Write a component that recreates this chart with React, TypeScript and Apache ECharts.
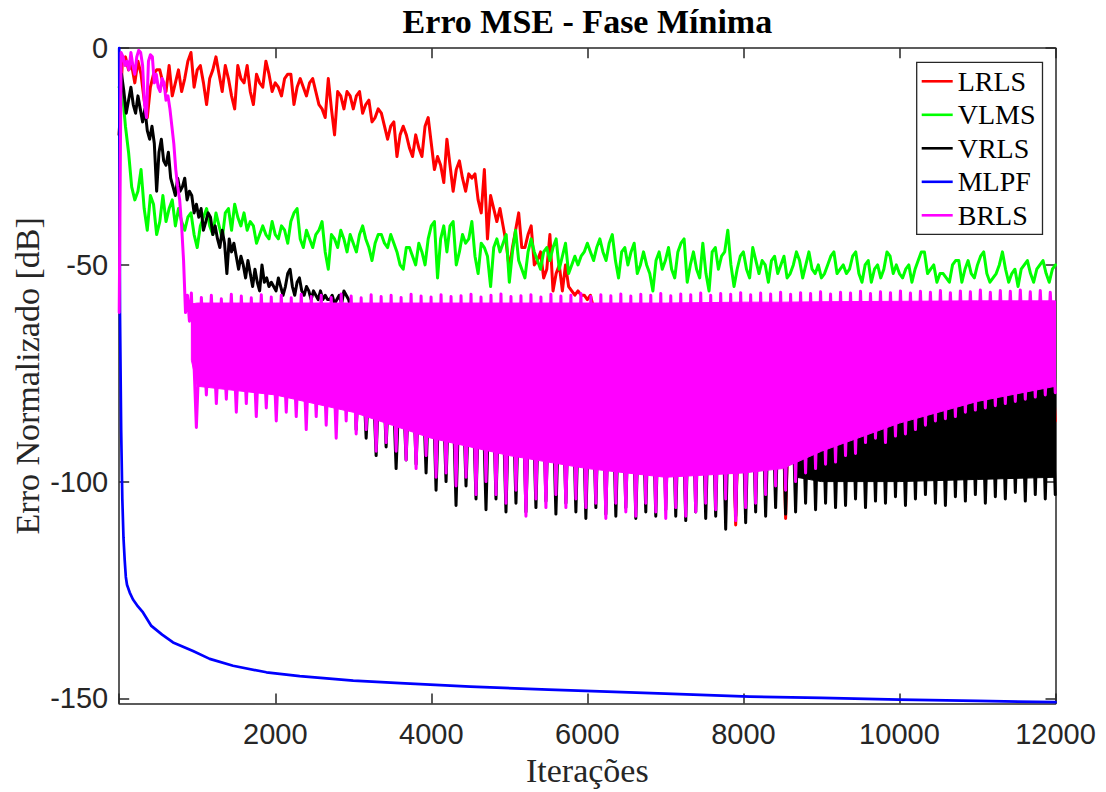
import React, { useEffect, useRef } from "react";
import * as echarts from "echarts";

// ---- sampling of the learning curves (iterations) ----
const LRLS_STEP = 40;
const VLMS_STEP = 40;
const VRLS_STEP = 30;
const BRLS_STEP = 25;
// steady-state oscillation: iteration of first crest / first trough, cycle length
const CYCLE_FIRST_PEAK = 925;
const CYCLE_FIRST_TROUGH = 989;
const CYCLE_LEN = 128;

const X_MIN = 0;
const X_MAX = 12000;
const X_INTERVAL = 2000;
const Y_MIN = -151.2;
const Y_MAX = 0;
const Y_TICKS = [0, -50, -100, -150];

const LEGEND_NAMES = ["LRLS", "VLMS", "VRLS", "MLPF", "BRLS"];

// LRLS, 0..6080 every 40 iterations
const LRLS_START = [
  -20, -3, -2, -5, -4, -8, -3, -6, -12, -16,
  -9, -6, -5, -5, -8, -10, -4, -11, -8, -5,
  -10, -7, -3, -1, -9, -5, -4, -8, -13, -7,
  -5, -2, -6, -10, -4, -7, -11, -14, -4, -7,
  -8, -4, -10, -13, -6, -8, -9, -3, -6, -10,
  -8, -9, -11, -7, -6, -6, -13, -9, -7, -9,
  -11, -8, -7, -10, -13, -14, -16, -7, -14, -20,
  -10, -11, -14, -10, -11, -14, -11, -10, -15, -13,
  -12, -17, -16, -14, -15, -18, -21, -18, -17, -25,
  -20, -18, -20, -23, -25, -20, -23, -25, -18, -16,
  -22, -28, -25, -27, -31, -21, -27, -33, -28, -26,
  -30, -33, -29, -30, -29, -35, -38, -28, -44, -34,
  -37, -40, -37, -41, -45, -51, -46, -42, -38, -46,
  -46, -43, -41, -50, -49, -47, -53, -51, -43, -56,
  -52, -50, -56, -50, -55, -56, -57, -56, -57, -57,
  -58, -57, -60,
];
// LRLS oscillation, troughs of cycles 40..86 and crests of cycles 41..86
const LRLS_LATE_TROUGHS = [
  -95, -96, -95, -96.5, -96, -97, -96, -97, -96.5, -97,
  -97.5, -96, -97, -96.5, -110, -96, -96.5, -96, -95.5, -108.5,
  -97, -96.5, -96, -95, -94, -93, -92, -91, -90, -89,
  -88, -87, -86, -85.5, -85, -84, -83.5, -83, -82, -81.5,
  -81, -80.5, -80, -79.5, -79, -78.5, -86,
];
const LRLS_LATE_PEAKS = [
  -63, -65, -64, -66, -63, -65, -64, -62, -65, -64,
  -66, -63, -65, -64, -63, -66, -64, -65, -63, -64,
  -66, -65, -63, -64, -65, -66, -63, -64, -65, -64,
  -63, -66, -64, -65, -63, -64, -65, -66, -64, -63,
  -65, -64, -66, -63, -65, -64,
];

// VLMS, 0..12000 every 40 iterations
const VLMS = [
  -9, -10, -18, -24, -32, -35, -33, -28, -37, -42,
  -34, -36, -43, -40, -34, -40, -37, -35, -41, -37,
  -40, -42, -39, -38, -43, -46, -41, -39, -37, -41,
  -43, -38, -41, -44, -38, -37, -42, -36, -39, -41,
  -38, -42, -40, -41, -45, -43, -41, -43, -44, -40,
  -43, -44, -41, -42, -45, -40, -38, -37, -44, -46,
  -42, -44, -46, -43, -42, -40, -47, -51, -43, -44,
  -46, -42, -44, -47, -43, -45, -47, -43, -41, -44,
  -46, -49, -45, -43, -43, -45, -46, -43, -45, -47,
  -50, -51, -46, -46, -48, -50, -45, -47, -50, -44,
  -41, -40, -53, -44, -41, -47, -41, -40, -50, -47,
  -43, -45, -44, -40, -48, -52, -45, -46, -48, -55,
  -46, -44, -47, -45, -43, -54, -47, -42, -49, -51,
  -53, -47, -44, -47, -49, -51, -47, -46, -49, -46,
  -44, -51, -48, -45, -52, -50, -48, -50, -48, -47,
  -45, -47, -49, -46, -44, -47, -49, -45, -43, -49,
  -53, -47, -46, -50, -47, -45, -52, -50, -47, -50,
  -52, -56, -49, -47, -51, -49, -46, -51, -53, -47,
  -45, -44, -54, -50, -47, -51, -53, -45, -52, -56,
  -47, -46, -51, -48, -47, -42, -50, -55, -51, -48,
  -47, -51, -53, -46, -49, -52, -49, -50, -54, -49,
  -48, -52, -50, -48, -53, -52, -50, -47, -49, -53,
  -50, -47, -51, -52, -50, -53, -52, -50, -48, -47,
  -52, -51, -50, -52, -51, -48, -47, -52, -54, -50,
  -49, -54, -51, -50, -53, -51, -47, -48, -52, -50,
  -52, -53, -51, -50, -54, -51, -49, -47, -47, -52,
  -51, -50, -54, -52, -52, -53, -54, -50, -49, -49,
  -54, -51, -49, -52, -53, -50, -48, -47, -52, -54,
  -53, -52, -50, -47, -51, -54, -52, -51, -55, -51,
  -50, -49, -52, -54, -51, -50, -49, -52, -54, -51,
  -50,
];

// VRLS, 0..3000 every 30 iterations
const VRLS_START = [
  -20, -6, -10, -15, -12, -9, -13, -15, -11, -14,
  -17, -14, -19, -21, -18, -22, -33, -24, -21, -26,
  -27, -24, -30, -32, -34, -30, -33, -32, -30, -35,
  -33, -34, -38, -36, -39, -37, -42, -40, -38, -39,
  -43, -41, -44, -46, -42, -45, -52, -44, -47, -45,
  -48, -51, -48, -50, -53, -49, -52, -55, -51, -54,
  -56, -50, -54, -53, -55, -54, -55, -56, -53, -55,
  -57, -55, -52, -51, -55, -57, -54, -53, -56, -57,
  -55, -56, -58, -56, -57, -58, -56, -58, -57, -58,
  -58, -57, -59, -58, -57, -59, -56, -57, -58, -60,
  -62,
];
// VRLS oscillation, troughs of cycles 16..86 and crests of cycles 17..86
const VRLS_LATE_TROUGHS = [
  -88, -90, -94, -92, -97, -95, -96, -98, -102, -100,
  -105.5, -101, -104, -106.5, -104, -107, -105, -107, -106, -104.5,
  -107.5, -105, -107, -108.5, -106, -107.5, -108, -106, -108.5, -107,
  -108, -106.5, -108, -109, -107, -108.5, -108, -111, -108, -109.5,
  -107, -108, -106, -107.5, -107, -105, -106.5, -105, -106, -105.5,
  -104, -106, -104.5, -105, -103.5, -105.5, -104, -103, -105, -105.5,
  -103.5, -104.5, -103, -105, -103.5, -104, -102.5, -104.5, -103, -104,
  -103,
];
const VRLS_LATE_PEAKS = [
  -64, -66, -63, -65, -67, -64, -65, -63, -66, -64,
  -65, -67, -64, -63, -66, -65, -64, -66, -63, -65,
  -67, -64, -65, -66, -63, -64, -66, -65, -67, -64,
  -63, -65, -66, -64, -65, -67, -63, -64, -66, -65,
  -64, -66, -63, -65, -67, -64, -65, -63, -66, -64,
  -65, -67, -64, -63, -66, -65, -64, -66, -63, -65,
  -67, -64, -65, -66, -63, -64, -66, -65, -64, -65,
];
// dense part of the VRLS oscillation (filled band)
const VRLS_CORE_ITER = [3000, 4000, 5000, 6000, 7000, 8000, 8640, 8680, 9000, 10000, 11000, 12000];
const VRLS_CORE_LOW = [-82, -88, -92, -94, -95, -95, -95, -99, -100, -100, -99.5, -99];
const VRLS_CORE_HIGH = [-66, -66, -66, -66, -66, -66, -66, -66, -66, -66, -66, -66];

// MLPF
const MLPF_ITER = [
  0, 10, 25, 40, 55, 70, 85, 100, 135, 177, 240, 305, 412, 550, 690, 946,
  1160, 1459, 1887, 2314, 3000, 3600, 4500, 5500, 6160, 7000, 8080, 9000,
  10000, 11000, 12000,
];
const MLPF_DB = [
  0, -61, -88, -104, -113, -118, -122, -123.8, -125.6, -127.2, -128.8, -130.2,
  -133.3, -135.3, -137.1, -139.1, -140.9, -142.5, -144.0, -144.9, -145.9,
  -146.5, -147.3, -148, -148.4, -148.9, -149.6, -149.9, -150.3, -150.6, -150.9,
];

// BRLS, 0..900 every 25 iterations
const BRLS_START = [
  -61, -1, -2, -4, -3, -5, -1, -4, -6, -2,
  -0.5, -1, -4, -13, -16, -3, -1.5, -2, -8, -6,
  -9, -10, -7, -8, -12, -11, -14, -18, -22, -28,
  -32, -35, -41, -49, -61, -57, -63,
];
// BRLS oscillation, crests and troughs of cycles 0..86
const BRLS_PEAKS = [
  -56.5, -57.5, -57, -57.8, -56.8, -57.2, -57.6, -56.9, -57.4, -57,
  -57.6, -56.8, -57.3, -57, -57.5, -56.7, -57.2, -57.6, -56.9, -57.3,
  -57, -57.5, -56.8, -57.2, -57.4, -56.9, -57.3, -57.1, -56.8, -57.4,
  -57, -56.7, -57.3, -57.1, -56.9, -57.4, -56.8, -57.2, -57, -56.6,
  -57.3, -56.9, -57.1, -56.7, -57.2, -56.8, -57, -56.6, -57.1, -56.7,
  -56.9, -56.5, -57, -56.6, -56.8, -56.4, -56.9, -56.5, -56.7, -56.3,
  -56.8, -56.4, -56.6, -56.2, -56.7, -56.3, -56.5, -56.1, -56.6, -56.2,
  -56.4, -56, -56.5, -56.1, -56.3, -55.9, -56.4, -56, -56.2, -55.8,
  -56.3, -55.9, -56.1, -55.8, -56.2, -55.9, -56.3,
];
const BRLS_TROUGHS = [
  -87.5, -80, -82, -81, -84, -82, -85, -83, -86, -84,
  -85, -88, -85, -87, -90, -86, -89, -88, -93, -91,
  -93, -95, -97, -94, -99, -98, -101, -99, -103, -100,
  -103, -105, -102, -108, -104, -106, -103, -106, -104, -106,
  -105, -108.5, -105, -107, -108, -105, -107, -108.5, -106, -108,
  -107, -105, -106.5, -104, -109, -106, -105, -103, -101, -102,
  -100, -98, -97, -96, -95.5, -94, -93.5, -91, -90, -91,
  -89.5, -89, -88, -87, -86, -85.5, -85, -84, -83.5, -83,
  -82.5, -82, -81.5, -81, -80.5, -80, -79.5,
];
// dense part of the BRLS oscillation (filled band)
const BRLS_CORE_ITER = [925, 1000, 1500, 2000, 2500, 3000, 3500, 4000, 4500, 5000, 6000, 7000, 8000, 8500, 9000, 10000, 11000, 12000];
const BRLS_CORE_LOW = [-72, -78, -79, -80, -82, -84, -87, -90, -92, -94, -97, -99, -98, -97, -93, -86.5, -81.5, -78];
const BRLS_CORE_HIGH = [-59, -58.8, -58.8, -58.8, -58.8, -58.8, -58.8, -58.8, -58.8, -58.8, -58.8, -58.8, -58.6, -58.6, -58.5, -58.4, -58.3, -58.3];

const COLORS = {
  LRLS: "#ff0000",
  VLMS: "#00ff00",
  VRLS: "#000000",
  MLPF: "#0000ff",
  BRLS: "#ff00ff",
};

const SANS = "'Liberation Sans', Helvetica, Arial, sans-serif";
const SERIF = "'Liberation Serif', 'Times New Roman', Times, serif";
const AXIS_COLOR = "#262626";
const LINE_WIDTH = 3;

const sampled = (vals: number[], step: number) => vals.map((v, i) => [i * step, v]);

const cyclePoints = (troughs: number[], firstTroughCycle: number, peaks: number[], firstPeakCycle: number) => {
  const pts: number[][] = [];
  troughs.forEach((v, i) => pts.push([CYCLE_FIRST_TROUGH + CYCLE_LEN * (firstTroughCycle + i), v]));
  peaks.forEach((v, i) => pts.push([CYCLE_FIRST_PEAK + CYCLE_LEN * (firstPeakCycle + i), v]));
  return pts.sort((a, b) => a[0] - b[0]);
};

const lineSeries = (name: string, data: number[][], color: string, z: number, width = LINE_WIDTH) => ({
  type: "line",
  name,
  data,
  z,
  symbol: "none",
  showSymbol: false,
  silent: true,
  clip: false,
  emphasis: { disabled: true },
  itemStyle: { color },
  lineStyle: { color, width, cap: "round", join: "round" },
});

// Filled band between a low and a high boundary, drawn through the axes' scales
const bandSeries = (name: string, xs: number[], lo: number[], hi: number[], color: string, z: number) => ({
  type: "custom",
  name,
  z,
  silent: true,
  clip: true,
  data: xs.map((x, i) => [x, lo[i], hi[i]]),
  encode: { x: 0, y: [1, 2] },
  itemStyle: { color },
  renderItem: (params: any, api: any) => {
    if (params.dataIndexInside !== 0) return null;
    const n = params.dataInsideLength;
    const top: number[][] = [];
    const bottom: number[][] = [];
    for (let i = 0; i < n; i++) {
      const x = api.value(0, i);
      top.push(api.coord([x, api.value(2, i)]));
      bottom.push(api.coord([x, api.value(1, i)]));
    }
    return {
      type: "polygon",
      shape: { points: top.concat(bottom.reverse()) },
      style: { fill: color, stroke: color, lineWidth: 1 },
      silent: true,
    };
  },
});

const axisLine = { show: true, onZero: false, lineStyle: { color: AXIS_COLOR, width: 1.5 } };
const axisTick = { show: true, inside: true, length: 10, lineStyle: { color: AXIS_COLOR, width: 1.5 } };

export default function App() {
  const ref = useRef<HTMLDivElement>(null);

  useEffect(() => {
    if (!ref.current) return;
    const chart = echarts.init(ref.current, undefined, { renderer: "svg" });

    const lrls = [
      ...sampled(LRLS_START, LRLS_STEP),
      ...cyclePoints(LRLS_LATE_TROUGHS, 40, LRLS_LATE_PEAKS, 41),
    ];
    const vlms = sampled(VLMS, VLMS_STEP);
    const vrls = [
      ...sampled(VRLS_START, VRLS_STEP),
      ...cyclePoints(VRLS_LATE_TROUGHS, 16, VRLS_LATE_PEAKS, 17),
    ];
    const mlpf = MLPF_ITER.map((x, i) => [x, MLPF_DB[i]]);
    const brls = [
      ...sampled(BRLS_START, BRLS_STEP),
      ...cyclePoints(BRLS_TROUGHS, 0, BRLS_PEAKS, 0),
    ];

    const option: any = {
      animation: false,
      backgroundColor: "#ffffff",
      title: {
        text: "Erro MSE - Fase Mínima",
        left: 587.4,
        top: 4,
        textAlign: "center",
        padding: 0,
        textStyle: { fontFamily: SERIF, fontWeight: "bold", fontSize: 34, color: "#000000" },
      },
      legend: {
        data: LEGEND_NAMES,
        orient: "vertical",
        left: 916.7,
        top: 62.3,
        padding: [4, 7, 4, 5],
        itemGap: 3.5,
        itemWidth: 31,
        itemHeight: 2.6,
        icon: "rect",
        selectedMode: false,
        borderColor: AXIS_COLOR,
        borderWidth: 1.3,
        borderRadius: 0,
        backgroundColor: "#ffffff",
        z: 20,
        textStyle: { fontFamily: SERIF, fontSize: 28, color: "#000000", lineHeight: 30 },
      },
      grid: {
        left: 119.2,
        right: 50.5,
        top: 48.2,
        bottom: 88.5,
        containLabel: false,
        outerBoundsMode: "none",
      },
      xAxis: [
        {
          type: "value",
          position: "bottom",
          min: X_MIN,
          max: X_MAX,
          interval: X_INTERVAL,
          axisLine,
          axisTick,
          splitLine: { show: false },
          axisLabel: {
            fontFamily: SANS,
            fontSize: 29,
            color: AXIS_COLOR,
            margin: 16,
            formatter: (v: number) => (v === 0 ? "" : String(v)),
          },
          name: "Iterações",
          nameLocation: "middle",
          nameGap: 50,
          nameMoveOverlap: false,
          nameTextStyle: { fontFamily: SERIF, fontSize: 34, color: AXIS_COLOR },
        },
        {
          type: "value",
          position: "top",
          min: X_MIN,
          max: X_MAX,
          interval: X_INTERVAL,
          axisLine,
          axisTick,
          splitLine: { show: false },
          axisLabel: { show: false },
        },
      ],
      yAxis: [
        {
          type: "value",
          position: "left",
          min: Y_MIN,
          max: Y_MAX,
          axisLine,
          axisTick: { ...axisTick, customValues: Y_TICKS },
          splitLine: { show: false },
          axisLabel: {
            customValues: Y_TICKS,
            fontFamily: SANS,
            fontSize: 29,
            color: AXIS_COLOR,
            margin: 11,
            formatter: (v: number) => String(v),
          },
          name: "Erro Normalizado [dB]",
          nameLocation: "middle",
          nameGap: 75,
          nameRotate: 90,
          nameMoveOverlap: false,
          nameTextStyle: { fontFamily: SERIF, fontSize: 34, color: AXIS_COLOR },
        },
        {
          type: "value",
          position: "right",
          min: Y_MIN,
          max: Y_MAX,
          axisLine,
          axisTick: { ...axisTick, customValues: Y_TICKS },
          splitLine: { show: false },
          axisLabel: { show: false },
        },
      ],
      series: [
        lineSeries("LRLS", lrls, COLORS.LRLS, 2),
        lineSeries("VLMS", vlms, COLORS.VLMS, 3),
        bandSeries("VRLS core", VRLS_CORE_ITER, VRLS_CORE_LOW, VRLS_CORE_HIGH, COLORS.VRLS, 4),
        lineSeries("VRLS", vrls, COLORS.VRLS, 5),
        lineSeries("MLPF", mlpf, COLORS.MLPF, 6, 2.7),
        bandSeries("BRLS core", BRLS_CORE_ITER, BRLS_CORE_LOW, BRLS_CORE_HIGH, COLORS.BRLS, 7),
        lineSeries("BRLS", brls, COLORS.BRLS, 8),
      ],
    };

    chart.setOption(option);
    return () => chart.dispose();
  }, []);

  return (
    <div
      ref={ref}
      style={{ position: "absolute", left: 0, top: 0, width: 1106, height: 792, background: "#ffffff" }}
    />
  );
}
